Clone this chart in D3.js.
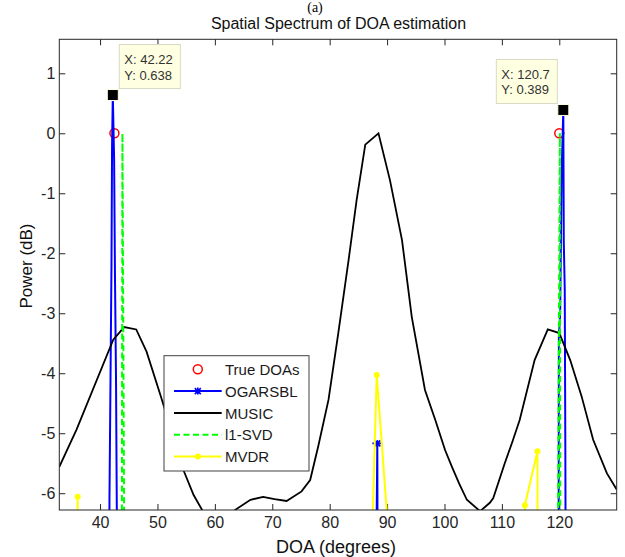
<!DOCTYPE html>
<html>
<head>
<meta charset="utf-8">
<script src="https://cdn.jsdelivr.net/npm/d3@7"></script>
<style>
body { margin: 0; background: #fff; }
text { font-family: "Liberation Sans", Arial, Helvetica, sans-serif; }
</style>
</head>
<body>
<div id="chart"></div>
<script>
var xTicks = [40, 50, 60, 70, 80, 90, 100, 110, 120];
var yTicks = [-6, -5, -4, -3, -2, -1, 0, 1];

// [DOA, power dB]; -10 means far below the visible range
var trueDoas = [[42.5, 0], [120, 0]];

var ogarsbl = [
    [32.9, -10], [41.52, -10], [41.64, -6.1], [41.82, -4.1], [41.99, -2.2], [42.09, -0.22],
    [42.22, 0.638], [42.45, -0.44], [42.6, -2.4], [42.78, -4.1], [42.92, -6.3], [43.0, -10],
    [87.85, -10], [88.3, -5.17], [88.4, -10],
    [119.85, -10], [119.93, -3.4], [120.15, -3.0], [120.4, -0.7], [120.7, 0.389],
    [120.78, -1.8], [120.95, -2.6], [121.05, -5.2], [121.2, -10], [130, -10]
];
var ogarsblMarks = [[42.22, 0.638], [88.3, -5.17], [120.7, 0.389]];

var music = [
    [32.9, -5.56], [35.9, -4.94], [42.3, -3.44], [44.2, -3.23], [46.3, -3.27], [48.1, -3.64],
    [50.5, -4.36], [52.5, -4.98], [54.5, -5.61], [56.3, -6.03], [58.2, -6.35], [60.5, -6.7],
    [62.3, -6.6], [63.5, -6.28], [66.2, -6.11], [68.4, -6.06], [70.4, -6.1], [72.5, -6.13],
    [75.1, -5.97], [76.6, -5.78], [78.0, -5.22], [79.8, -4.44], [81.5, -3.33], [83.3, -2.11],
    [84.7, -1.11], [86.2, -0.19], [88.5, 0], [90.5, -0.78], [92.6, -1.78], [94.3, -3.06],
    [96.6, -4.28], [98.4, -4.78], [100.1, -5.28], [101.3, -5.56], [102.6, -5.85], [103.9, -6.11],
    [106.2, -6.3], [107.9, -6.16], [108.5, -6.08], [110.5, -5.5], [111.8, -5.15], [113.1, -4.78],
    [115.7, -3.78], [118.0, -3.27], [120.0, -3.33], [121.9, -3.78], [123.9, -4.39], [125.9, -5.11],
    [128.3, -5.67], [130, -5.94]
];

var l1svd = [
    [32.9, -10], [43.75, -10], [43.9, 0], [44.35, -10],
    [119.6, -10], [120.1, 0], [120.2, -10], [130, -10]
];

var mvdr = [
    [32.9, -10], [35.95, -10], [36.1, -6.06], [36.15, -10],
    [87.3, -7.0], [88.2, -4.03], [90.1, -6.5], [90.3, -10],
    [113.8, -10], [114.0, -6.2], [116.2, -5.3], [116.25, -10], [130, -10]
];

var dataTips = [[42.22, 0.638], [120.7, 0.389]];
var legendNames = ["True DOAs", "OGARSBL", "MUSIC", "l1-SVD", "MVDR"];

// set the dimensions and margins of the graph
var margin = {top: 39.3, right: 8.3, bottom: 47, left: 59.3},
    width = 625 - margin.left - margin.right,
    height = 557 - margin.top - margin.bottom;

var svg0 = d3.select("#chart")
    .append("svg")
    .attr("width", 625)
    .attr("height", 557);

var svg = svg0.append("g")
    .attr("transform", "translate(" + margin.left + "," + margin.top + ")");

var x = d3.scaleLinear().domain([32.9, 130]).range([0, width]);
var y = d3.scaleLinear().domain([-6.28, 1.567]).range([height, 0]);

svg.append("clipPath").attr("id", "clip")
    .append("rect").attr("width", width).attr("height", height);

var axisColor = "#262626";
var plain = function(d) { return String(d); };   // hyphen minus like MATLAB

// axes, ticks pointing inward
var gx = svg.append("g")
    .attr("transform", "translate(0," + height + ")")
    .call(d3.axisBottom(x).tickValues(xTicks).tickFormat(plain).tickSize(-6).tickPadding(7));
var gy = svg.append("g")
    .call(d3.axisLeft(y).tickValues(yTicks).tickFormat(plain).tickSize(-6).tickPadding(4));
var gt = svg.append("g")
    .call(d3.axisTop(x).tickValues(xTicks).tickSize(-6).tickFormat(""));
var gr = svg.append("g")
    .attr("transform", "translate(" + width + ",0)")
    .call(d3.axisRight(y).tickValues(yTicks).tickSize(-6).tickFormat(""));

[gx, gy, gt, gr].forEach(function(g) {
    g.select(".domain").remove();
    g.selectAll("line").attr("stroke", axisColor);
    g.selectAll("text").attr("fill", axisColor)
        .style("font-family", "'Liberation Sans', Arial, sans-serif")
        .style("font-size", "16px");
});

var plot = svg.append("g").attr("clip-path", "url(#clip)");

var line = d3.line()
    .x(function(d) { return x(d[0]); })
    .y(function(d) { return y(d[1]); });

// True DOAs
plot.selectAll(".doa")
    .data(trueDoas)
    .enter()
    .append("circle")
    .attr("cx", function(d) { return x(d[0]); })
    .attr("cy", function(d) { return y(d[1]); })
    .attr("r", 4.5)
    .attr("fill", "none")
    .attr("stroke", "#ff0000")
    .attr("stroke-width", 1.5);

// OGARSBL
plot.append("path").datum(ogarsbl)
    .attr("d", line)
    .attr("fill", "none")
    .attr("stroke", "#0000ff")
    .attr("stroke-width", 2)
    .attr("stroke-linejoin", "round");

var star = "M-5,0H5M0,-3.5V3.5M-3,-3L3,3M-3,3L3,-3";
plot.selectAll(".star")
    .data(ogarsblMarks)
    .enter()
    .append("path")
    .attr("transform", function(d) { return "translate(" + x(d[0]) + "," + y(d[1]) + ")"; })
    .attr("d", star)
    .attr("stroke", "#0000ff")
    .attr("stroke-width", 1.6);

// MUSIC
plot.append("path").datum(music)
    .attr("d", line)
    .attr("fill", "none")
    .attr("stroke", "#000")
    .attr("stroke-width", 1.8);

// l1-SVD
plot.append("path").datum(l1svd)
    .attr("d", line)
    .attr("fill", "none")
    .attr("stroke", "#00ff00")
    .attr("stroke-width", 2)
    .attr("stroke-dasharray", "6,3.5");

// MVDR
plot.append("path").datum(mvdr)
    .attr("d", line)
    .attr("fill", "none")
    .attr("stroke", "#ffff00")
    .attr("stroke-width", 2);
plot.selectAll(".dot")
    .data(mvdr)
    .enter()
    .append("circle")
    .attr("cx", function(d) { return x(d[0]); })
    .attr("cy", function(d) { return y(d[1]); })
    .attr("r", 3)
    .attr("fill", "#ffff00");

// frame
svg.append("rect")
    .attr("width", width)
    .attr("height", height)
    .attr("fill", "none")
    .attr("stroke", axisColor)
    .attr("stroke-width", 1);

// legend
var lg = svg.append("g").attr("transform", "translate(104.7,316.4)");
lg.append("rect")
    .attr("width", 145)
    .attr("height", 115.3)
    .attr("fill", "#fff")
    .attr("stroke", "#404040")
    .attr("stroke-width", 1);

var rowY = function(i) { return 13.6 + i * 21.8; };
var items = lg.selectAll(".item")
    .data(legendNames)
    .enter()
    .append("g")
    .attr("transform", function(d, i) { return "translate(0," + rowY(i) + ")"; });

items.append("text")
    .attr("x", 61)
    .attr("y", 5.6)
    .attr("fill", "#1a1a1a")
    .style("font-size", "15px")
    .text(function(d) { return d; });

var sample = {
    "OGARSBL": {c: "#0000ff", dash: null},
    "MUSIC": {c: "#000", dash: null},
    "l1-SVD": {c: "#00ff00", dash: "6,3.5"},
    "MVDR": {c: "#ffff00", dash: null}
};
items.filter(function(d) { return d !== "True DOAs"; })
    .append("line")
    .attr("x1", 10).attr("x2", 57.7)
    .attr("stroke", function(d) { return sample[d].c; })
    .attr("stroke-width", 2)
    .attr("stroke-dasharray", function(d) { return sample[d].dash; });

items.filter(function(d) { return d === "True DOAs"; })
    .append("circle")
    .attr("cx", 33.8).attr("r", 4.5)
    .attr("fill", "none").attr("stroke", "#ff0000").attr("stroke-width", 1.5);
items.filter(function(d) { return d === "OGARSBL"; })
    .append("path")
    .attr("transform", "translate(33.8,0)")
    .attr("d", star)
    .attr("stroke", "#0000ff").attr("stroke-width", 1.6);
items.filter(function(d) { return d === "MVDR"; })
    .append("circle")
    .attr("cx", 33.8).attr("r", 3)
    .attr("fill", "#ffff00");

// data tips
dataTips.forEach(function(d) {
    var px = x(d[0]), py = y(d[1]);
    var onLeft = px > width / 2;
    var bw = 61, bh = 44;
    var bx = onLeft ? px - 6 - bw : px + 6.5;
    var by = py - 6.5 - bh;
    var tip = svg.append("g");
    tip.append("rect")
        .attr("x", bx).attr("y", by)
        .attr("width", bw).attr("height", bh)
        .attr("fill", "#ffffe1")
        .attr("stroke", "#d9d9c4")
        .attr("stroke-width", 1);
    tip.append("text")
        .attr("x", bx + 5).attr("y", by + 19.5)
        .attr("fill", "#333")
        .style("font-size", "13px")
        .text("X: " + d[0]);
    tip.append("text")
        .attr("x", bx + 5).attr("y", by + 35)
        .attr("fill", "#333")
        .style("font-size", "13px")
        .text("Y: " + d[1]);
    tip.append("rect")
        .attr("x", px - 5.5).attr("y", py - 5.5)
        .attr("width", 11).attr("height", 11)
        .attr("fill", "#000")
        .attr("stroke", "#ffffe1")
        .attr("stroke-width", 1);
});

// titles and labels
svg0.append("text")
    .attr("x", 315).attr("y", 11.5)
    .attr("text-anchor", "middle")
    .style("font-family", "'Liberation Serif', 'Times New Roman', serif")
    .style("font-size", "14px")
    .text("(a)");

svg0.append("text")
    .attr("x", 338.5).attr("y", 28.5)
    .attr("text-anchor", "middle")
    .attr("fill", "#111")
    .style("font-size", "16px")
    .text("Spatial Spectrum of DOA estimation");

svg0.append("text")
    .attr("x", 336).attr("y", 552.5)
    .attr("text-anchor", "middle")
    .attr("fill", "#111")
    .style("font-size", "18px")
    .text("DOA (degrees)");

svg0.append("text")
    .attr("transform", "translate(31.5,266) rotate(-90)")
    .attr("text-anchor", "middle")
    .attr("fill", "#111")
    .style("font-size", "17px")
    .text("Power (dB)");
</script>
</body>
</html>
